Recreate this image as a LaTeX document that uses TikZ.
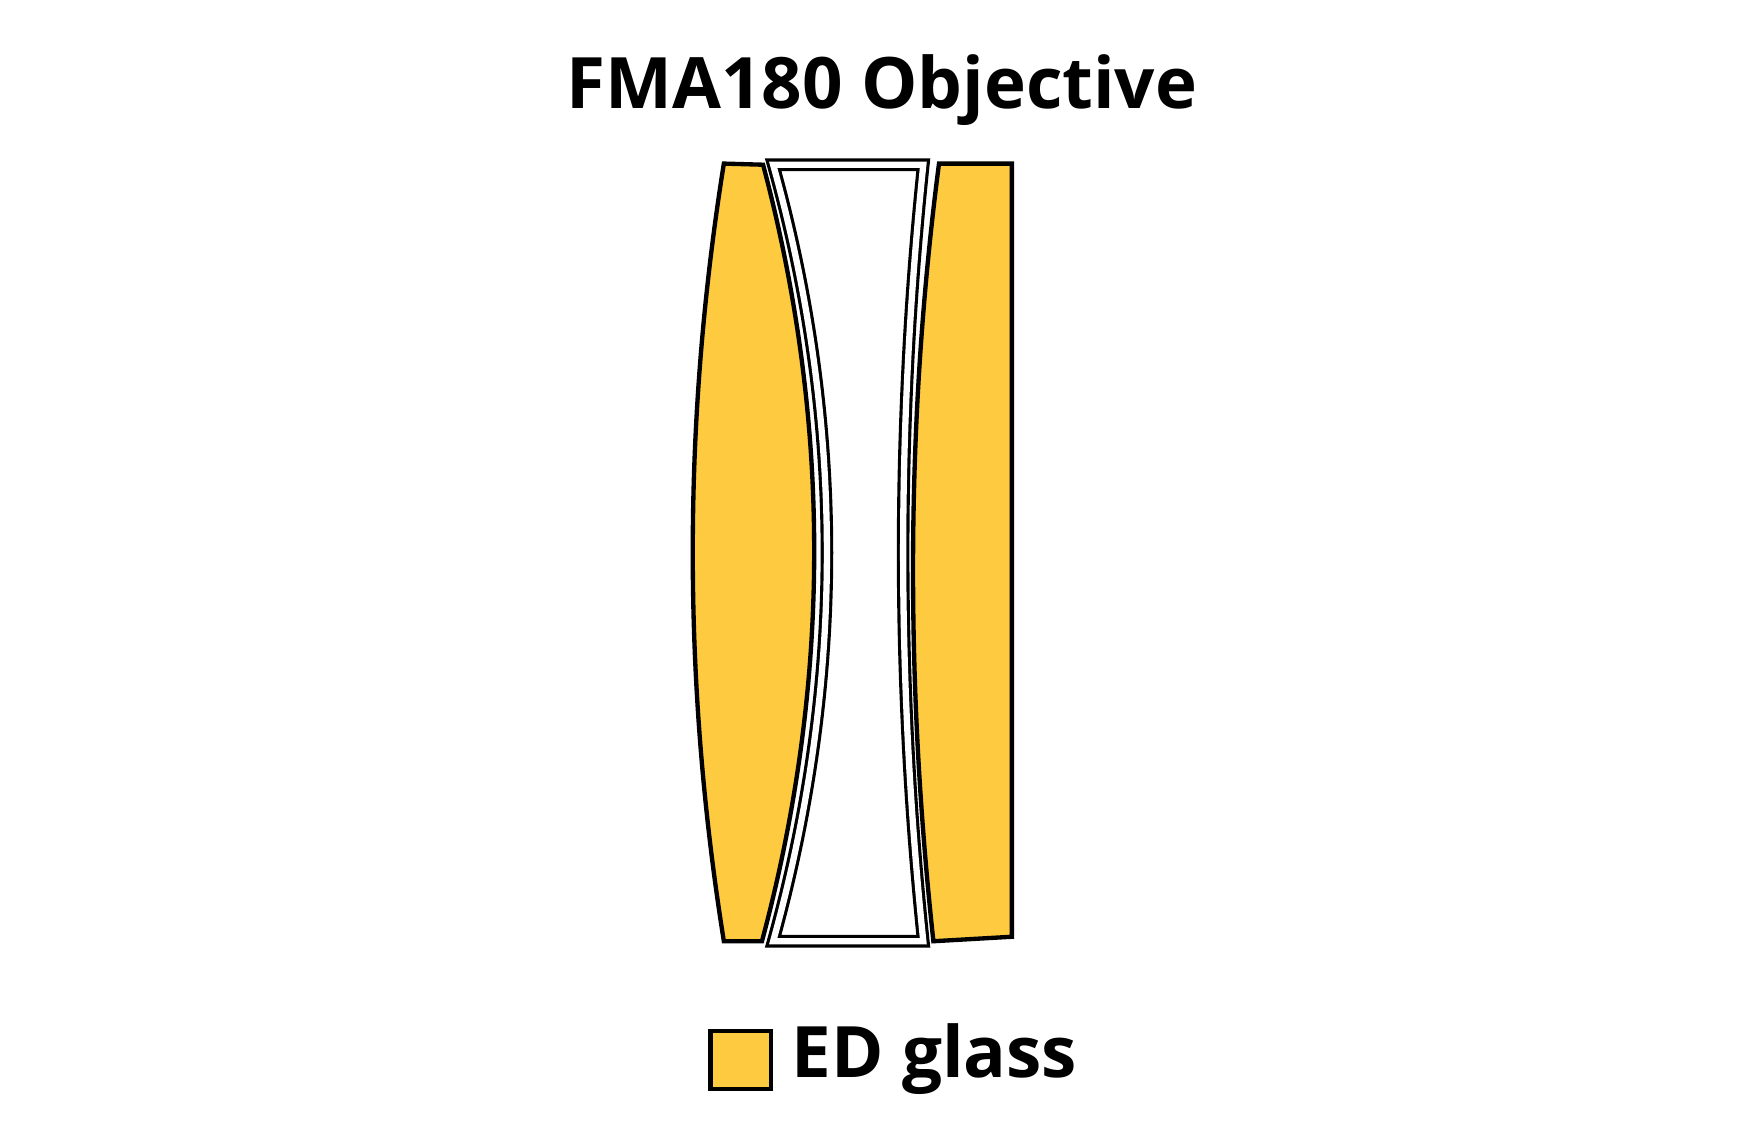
\documentclass[tikz,border=0pt]{standalone}
\usepackage{fontspec}
\setmainfont{Open Sans}
\definecolor{edgold}{HTML}{FDCA40}
\begin{document}
\begin{tikzpicture}[x=0.01cm, y=-0.01cm, line join=miter]
\tikzset{edlens/.style={draw=black, line width=1.1pt, fill=edgold},
         plainlens/.style={draw=black, line width=0.8pt, double=white, double distance=1.6pt, fill=white}}
\useasboundingbox (0,0) rectangle (1560,1024);
\node[font=\fontsize{18}{20}\selectfont\bfseries] (title) at (787,80) {FMA180 Objective};
% first element
\draw[edlens] (646,146) -- (681,147) .. controls (742,377) and (742,609) .. (680,840)
  -- (646,840) .. controls (609,609) and (609,377) .. (646,146) -- cycle;
% second element
\draw[plainlens] (690,147) -- (824,147) .. controls (800,377) and (800,609) .. (824,840)
  -- (690,840) .. controls (754,609) and (754,377) .. (690,147) -- cycle;
% third element
\draw[edlens] (838,146) -- (903,146) -- (903,836) -- (833,840)
  .. controls (808,609) and (808,377) .. (838,146) -- cycle;
% legend
\draw[edlens] (634,920) rectangle (688,972);
\node[font=\fontsize{18}{20}\selectfont\bfseries, anchor=west] (legend) at (694,945) {ED glass};
\end{tikzpicture}
\end{document}
